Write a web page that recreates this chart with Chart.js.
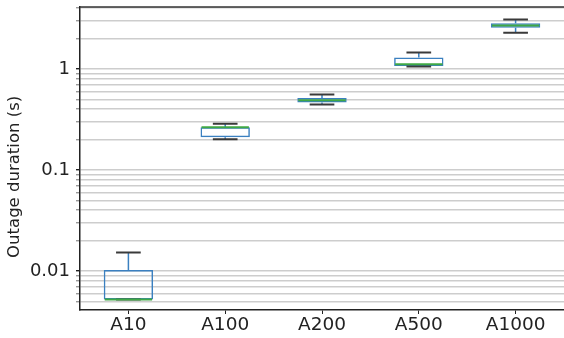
<!DOCTYPE html>
<html>
<head>
<meta charset="utf-8">
<script src="https://cdn.jsdelivr.net/npm/chart.js@4"></script>
<style>
  html, body { margin: 0; padding: 0; background: #fff; }
  #wrap { width: 564px; height: 338px; }
</style>
</head>
<body>
<div id="wrap"><canvas id="myChart" width="564" height="338"></canvas></div>
<script>
const categories = ["A10", "A100", "A200", "A500", "A1000"];
const lowerWhisker = [0.0052, 0.201, 0.444, 1.054, 2.28];
const q1 = [0.0052, 0.211, 0.465, 1.07, 2.55];
const median = [0.0052, 0.264, 0.49, 1.114, 2.69];
const q3 = [0.0102, 0.264, 0.516, 1.30, 2.83];
const upperWhisker = [0.0152, 0.286, 0.558, 1.456, 3.09];
const tickLabels = [0.01, 0.1, 1];
const yMin = 0.0041;
const yMax = 4.1;

const boxColor = "#3b80c0";
const medianColor = "#3fa845";
const capColor = "#3a3a3a";

function isLabelled(v) {
  return tickLabels.some((t) => Math.abs(v - t) / t < 1e-6);
}

// whiskers, caps and medians, placed through the chart's scales
const boxExtras = {
  id: "boxExtras",
  afterDatasetsDraw(chart) {
    const { ctx, chartArea, scales: { y } } = chart;
    const meta = chart.getDatasetMeta(0);
    ctx.save();
    meta.data.forEach((bar, i) => {
      const cx = bar.x;
      const half = bar.width / 2;
      const capHalf = half / 2;
      const yUp = y.getPixelForValue(upperWhisker[i]);
      const yLo = y.getPixelForValue(lowerWhisker[i]);
      const yQ1 = y.getPixelForValue(q1[i]);
      const yQ3 = y.getPixelForValue(q3[i]);
      const yMed = y.getPixelForValue(median[i]);

      ctx.strokeStyle = boxColor;
      ctx.lineWidth = 1.5;
      ctx.beginPath();
      ctx.moveTo(cx, yQ3); ctx.lineTo(cx, yUp);
      ctx.moveTo(cx, yQ1); ctx.lineTo(cx, yLo);
      ctx.stroke();

      ctx.strokeStyle = capColor;
      ctx.lineWidth = 2;
      ctx.beginPath();
      ctx.moveTo(cx - capHalf, yUp); ctx.lineTo(cx + capHalf, yUp);
      ctx.moveTo(cx - capHalf, yLo); ctx.lineTo(cx + capHalf, yLo);
      ctx.stroke();

      ctx.strokeStyle = medianColor;
      ctx.lineWidth = 2;
      ctx.beginPath();
      ctx.moveTo(cx - half + 1, yMed); ctx.lineTo(cx + half - 1, yMed);
      ctx.stroke();
    });
    // top frame line
    ctx.strokeStyle = "#333";
    ctx.lineWidth = 1.5;
    ctx.beginPath();
    ctx.moveTo(chartArea.left, chartArea.top);
    ctx.lineTo(chartArea.right, chartArea.top);
    ctx.stroke();
    ctx.restore();
  },
};

const ctx = document.getElementById("myChart").getContext("2d");
new Chart(ctx, {
  type: "bar",
  data: {
    labels: categories,
    datasets: [{
      data: categories.map((_, i) => [q1[i], q3[i]]),
      backgroundColor: "rgba(0,0,0,0)",
      borderColor: boxColor,
      borderWidth: 1.5,
      borderSkipped: false,
      barPercentage: 0.51,
      categoryPercentage: 1,
    }],
  },
  options: {
    responsive: false,
    animation: false,
    layout: { padding: { top: 7, right: -3, bottom: 0, left: 0 } },
    plugins: {
      legend: { display: false },
      tooltip: { enabled: false },
    },
    scales: {
      x: {
        grid: { drawOnChartArea: false, drawTicks: true, tickLength: 4, offset: false, color: "#222" },
        border: { color: "#222", width: 1.5 },
        ticks: { color: "#222", padding: 0, font: { family: "DejaVu Sans", size: 18.5 } },
        afterFit(scale) {
          scale.height = 28;
          scale.paddingLeft = 0;
          scale.paddingRight = 0;
        },
      },
      y: {
        type: "logarithmic",
        min: yMin,
        max: yMax,
        afterBuildTicks(scale) {
          const ticks = [];
          for (let e = -3; e <= 0; e++) {
            for (let k = 1; k <= 9; k++) {
              const v = k * Math.pow(10, e);
              if (v >= yMin && v <= yMax) ticks.push({ value: v, major: k === 1 });
            }
          }
          scale.ticks = ticks;
        },
        grid: {
          color: "#cdcdcd",
          lineWidth: 1.4,
          tickLength: 4,
          tickColor: (c) => (c.tick && isLabelled(c.tick.value) ? "#222" : "#999"),
        },
        border: { color: "#222", width: 1.5 },
        ticks: {
          autoSkip: false,
          padding: 6,
          color: "#222",
          font: { family: "DejaVu Sans", size: 18 },
          callback: (value) => (isLabelled(value) ? String(value) : ""),
        },
        title: {
          display: true,
          // trailing spaces nudge the label down like the reference
          text: "Outage duration (s)\u00a0\u00a0\u00a0\u00a0\u00a0\u00a0\u00a0",
          color: "#222",
          padding: { top: 5, bottom: 0 },
          font: { family: "DejaVu Sans", size: 16.5 },
        },
        afterFit(scale) {
          scale.width = 80;
          scale.paddingTop = 0;
          scale.paddingBottom = 0;
        },
      },
    },
  },
  plugins: [boxExtras],
});
</script>
</body>
</html>
